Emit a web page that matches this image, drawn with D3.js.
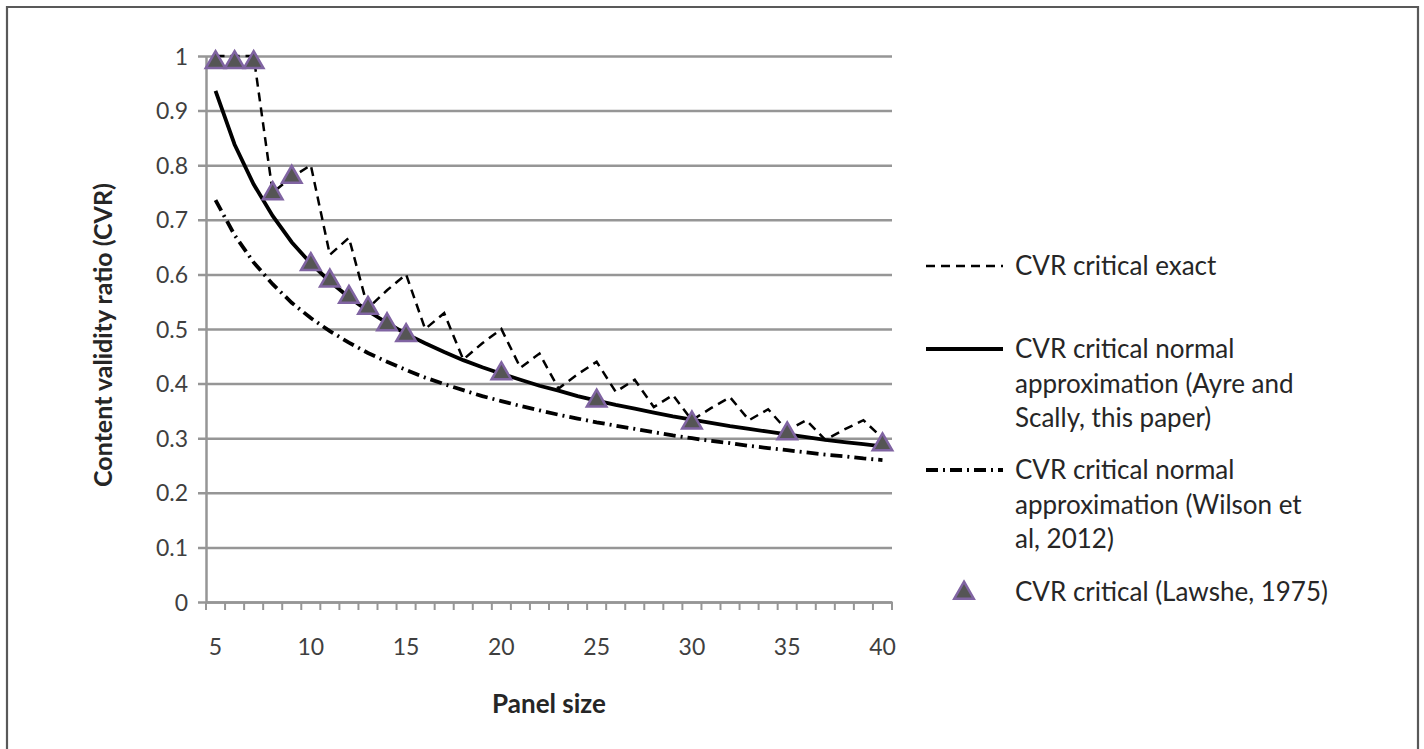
<!DOCTYPE html>
<html>
<head>
<meta charset="utf-8">
<script src="https://cdn.jsdelivr.net/npm/d3@7"></script>
<style>
  html, body { margin: 0; padding: 0; background: #fff; }
  svg { display: block; }
  text { font-family: Lato, "Open Sans", sans-serif; }
</style>
</head>
<body>
<svg id="chart" width="1424" height="749"></svg>
<script>
// ---- Data ----
const panelSizes = d3.range(5, 41);
const cvrExact = [1.000, 1.000, 1.000, 0.750, 0.778, 0.800, 0.636, 0.667, 0.538, 0.571,
                  0.600, 0.500, 0.529, 0.444, 0.474, 0.500, 0.429, 0.455, 0.391, 0.417,
                  0.440, 0.385, 0.407, 0.357, 0.379, 0.333, 0.355, 0.375, 0.333, 0.353,
                  0.314, 0.333, 0.297, 0.316, 0.333, 0.300];
const cvrAyre = [0.936, 0.838, 0.765, 0.707, 0.659, 0.620, 0.587, 0.558, 0.533, 0.511,
                 0.491, 0.474, 0.458, 0.443, 0.430, 0.418, 0.407, 0.396, 0.387, 0.377,
                 0.369, 0.361, 0.354, 0.347, 0.340, 0.334, 0.328, 0.322, 0.317, 0.312,
                 0.307, 0.302, 0.297, 0.293, 0.289, 0.285];
const cvrWilson = [0.736, 0.672, 0.622, 0.582, 0.548, 0.520, 0.496, 0.475, 0.456, 0.440,
                   0.425, 0.411, 0.399, 0.388, 0.377, 0.368, 0.359, 0.351, 0.343, 0.336,
                   0.329, 0.323, 0.317, 0.311, 0.305, 0.300, 0.295, 0.291, 0.286, 0.282,
                   0.278, 0.274, 0.270, 0.267, 0.263, 0.260];
const lawsheN = [5, 6, 7, 8, 9, 10, 11, 12, 13, 14, 15, 20, 25, 30, 35, 40];
const lawsheCVR = [0.99, 0.99, 0.99, 0.75, 0.78, 0.62, 0.59, 0.56, 0.54, 0.51, 0.49, 0.42, 0.37, 0.33, 0.31, 0.29];
const xTickLabels = [5, 10, 15, 20, 25, 30, 35, 40];
const yTicks = [0, 0.1, 0.2, 0.3, 0.4, 0.5, 0.6, 0.7, 0.8, 0.9, 1];
const legendLabels = [
  ["CVR critical exact"],
  ["CVR critical normal", "approximation (Ayre and", "Scally, this paper)"],
  ["CVR critical normal", "approximation (Wilson et", "al, 2012)"],
  ["CVR critical (Lawshe, 1975)"]
];

// ---- Layout ----
const svg = d3.select("#chart");
const plotLeft = 206, plotRight = 892, plotTop = 56, plotBottom = 602;

// outer border
svg.append("path")
  .attr("d", `M7,760 L7,7 L1418,7 L1418,760`)
  .attr("fill", "none").attr("stroke", "#595959").attr("stroke-width", 2.2);

const x = d3.scaleBand().domain(panelSizes).range([plotLeft, plotRight]).paddingInner(0).paddingOuter(0);
const cx = n => x(n) + x.bandwidth() / 2;
const y = d3.scaleLinear().domain([0, 1]).range([plotBottom, plotTop]);

const gridColor = "#969696";
const tickColor = "#3f3f3f";

// gridlines + y ticks
const yAxis = d3.axisLeft(y).tickValues(yTicks).tickSize(-(plotRight - plotLeft)).tickSizeOuter(0)
  .tickFormat(d => d3.format("")(+d.toFixed(1)));
const gy = svg.append("g").attr("transform", `translate(${plotLeft},0)`).call(yAxis);
gy.select(".domain").attr("stroke", gridColor).attr("stroke-width", 2.5);
gy.selectAll(".tick line").attr("stroke", gridColor).attr("stroke-width", 2.5).attr("x1", -8);
gy.selectAll(".tick text").attr("x", -18).attr("fill", tickColor)
  .style("font-size", "23px").attr("dy", "0.35em");

// x axis
const xAxis = d3.axisBottom(x).tickValues(xTickLabels).tickSize(0).tickSizeOuter(0);
const gx = svg.append("g").attr("transform", `translate(0,${plotBottom})`).call(xAxis);
gx.select(".domain").attr("stroke", gridColor).attr("stroke-width", 2.5);
gx.selectAll(".tick text").attr("y", 45).attr("dy", "0.35em").attr("fill", tickColor).style("font-size", "23px");
// minor tick marks at category boundaries
const boundaries = panelSizes.map(n => x(n)).concat([plotRight]);
gx.selectAll(".mtick").data(boundaries).enter().append("line")
  .attr("x1", d => d).attr("x2", d => d).attr("y1", 0).attr("y2", 8)
  .attr("stroke", gridColor).attr("stroke-width", 2);

// ---- Series ----
const line = d3.line().x(d => cx(d[0])).y(d => y(d[1]));
const zip = (xs, ys) => xs.map((v, i) => [v, ys[i]]);

svg.append("path").datum(zip(panelSizes, cvrWilson)).attr("d", line)
  .attr("fill", "none").attr("stroke", "#000").attr("stroke-width", 3.8)
  .attr("stroke-dasharray", "12,5,2,5");
svg.append("path").datum(zip(panelSizes, cvrExact)).attr("d", line)
  .attr("fill", "none").attr("stroke", "#000").attr("stroke-width", 2.5)
  .attr("stroke-dasharray", "9,6");
svg.append("path").datum(zip(panelSizes, cvrAyre)).attr("d", line)
  .attr("fill", "none").attr("stroke", "#000").attr("stroke-width", 3.8);

const tri = d3.symbol().type(d3.symbolTriangle).size(165);
svg.selectAll(".lawshe").data(zip(lawsheN, lawsheCVR)).enter().append("path")
  .attr("d", tri)
  .attr("transform", d => `translate(${cx(d[0])},${y(d[1]) + 1})`)
  .attr("fill", "#555555").attr("stroke", "#8064A2").attr("stroke-width", 2.5);

// ---- Axis titles ----
svg.append("text").attr("x", 549).attr("y", 704).attr("text-anchor", "middle")
  .attr("dy", "0.35em").style("font-size", "26px").style("font-weight", "bold").attr("fill", "#262626")
  .text("Panel size");
svg.append("text").attr("transform", "translate(103,335) rotate(-90)").attr("text-anchor", "middle")
  .attr("dy", "0.35em").style("font-size", "25px").style("font-weight", "bold").attr("fill", "#262626")
  .text("Content validity ratio (CVR)");

// ---- Legend ----
const lg = svg.append("g");
const legendY = [266, 349, 470, 592];
const lineH = 34.5;
const styles = [
  {w: 2.5, dash: "9,6"},
  {w: 3.8, dash: null},
  {w: 3.8, dash: "12,5,2,5"},
  null
];
legendLabels.forEach((lines, i) => {
  const yy = legendY[i];
  if (styles[i]) {
    lg.append("line").attr("x1", 926).attr("x2", 1003).attr("y1", yy).attr("y2", yy)
      .attr("stroke", "#000").attr("stroke-width", styles[i].w)
      .attr("stroke-dasharray", styles[i].dash);
  } else {
    lg.append("path").attr("d", tri).attr("transform", `translate(964,${yy + 1})`)
      .attr("fill", "#555555").attr("stroke", "#8064A2").attr("stroke-width", 2.5);
  }
  lines.forEach((t, j) => {
    lg.append("text").attr("x", 1015).attr("y", yy + j * lineH).attr("dy", "0.35em")
      .style("font-size", "26px").attr("fill", "#262626").text(t);
  });
});
</script>
</body>
</html>
